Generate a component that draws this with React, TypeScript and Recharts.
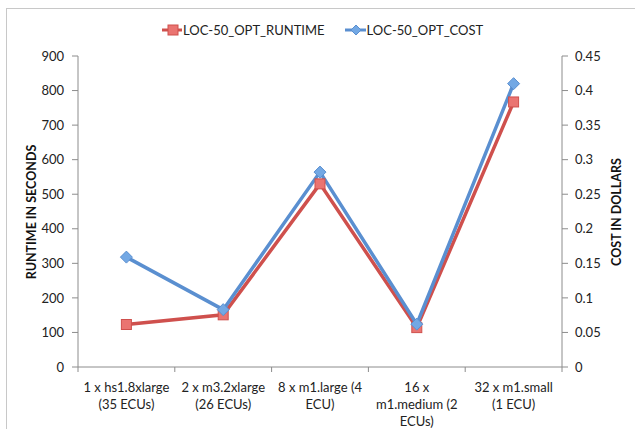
import { LineChart, Line, XAxis, YAxis } from 'recharts';

// instance types on the x axis (line breaks as in the original)
const categories = [
    '1 x hs1.8xlarge\n(35 ECUs)',
    '2 x m3.2xlarge\n(26 ECUs)',
    '8 x m1.large (4\nECU)',
    '16 x\nm1.medium (2\nECUs)',
    '32 x m1.small\n(1 ECU)',
];
const runtimeSeconds = [123, 151, 530, 114, 767];
const costDollars = [0.159, 0.083, 0.282, 0.062, 0.41];
const runtimeTicks = [0, 100, 200, 300, 400, 500, 600, 700, 800, 900];
const costTicks = [0, 0.05, 0.1, 0.15, 0.2, 0.25, 0.3, 0.35, 0.4, 0.45];

const data = categories.map((c, i) => ({
    name: c,
    runtime: runtimeSeconds[i],
    cost: costDollars[i],
}));

const FONT = 'Lato, "Open Sans", sans-serif';
const AXIS = '#8c8c8c';
const RED = '#cf504d';
const RED_FILL = '#ea7471';
const BLUE = '#5a8fd0';
const BLUE_FILL = '#73a8e4';
const HALF_BAND = 48.4;

const CategoryTick = (props: any) => {
    const { x, y, payload, index } = props;
    const lines = String(payload.value).split('\n');
    const top = y - 8;
    return (
        <g>
            <line x1={x - HALF_BAND} y1={top} x2={x - HALF_BAND} y2={top + 5} stroke={AXIS} />
            {index === categories.length - 1 && (
                <line x1={x + HALF_BAND} y1={top} x2={x + HALF_BAND} y2={top + 5} stroke={AXIS} />
            )}
            {lines.map((l, i) => (
                <text key={i} x={x} y={y + 17 + i * 17} textAnchor="middle" fontSize={13} fill="#222" fontFamily={FONT}>
                    {l}
                </text>
            ))}
        </g>
    );
};

const SquareDot = (props: any) => {
    const { cx, cy } = props;
    if (cx == null || cy == null) return null;
    return <rect x={cx - 5} y={cy - 5} width={10} height={10} fill={RED_FILL} stroke={RED} strokeWidth={1} />;
};

const DiamondDot = (props: any) => {
    const { cx, cy } = props;
    if (cx == null || cy == null) return null;
    return <path d={`M${cx},${cy - 6} L${cx + 6},${cy} L${cx},${cy + 6} L${cx - 6},${cy} Z`} fill={BLUE_FILL} stroke={BLUE} strokeWidth={1} />;
};

const App = () => {
    return (
        <div style={{ position: 'absolute', left: 0, top: 0, width: 635, height: 429, background: '#fff', fontFamily: FONT, overflow: 'hidden' }}>
            <div style={{ position: 'absolute', left: 6, top: 8, width: 640, height: 440, border: '1px solid #c8c8c8' }} />
            <div style={{ position: 'absolute', top: 21, left: 162, display: 'flex', fontSize: 13, color: '#222' }}>
                <svg width={21} height={18}>
                    <line x1={0} y1={9} x2={20} y2={9} stroke={RED} strokeWidth={3} />
                    <rect x={6} y={4} width={10} height={10} fill={RED_FILL} stroke={RED} />
                </svg>
                <span style={{ lineHeight: '18px' }}>LOC-50_OPT_RUNTIME</span>
                <svg width={22} height={18} style={{ marginLeft: 20 }}>
                    <line x1={0} y1={9} x2={21} y2={9} stroke={BLUE} strokeWidth={3} />
                    <path d="M11,4 L16,9 L11,14 L6,9 Z" fill={BLUE_FILL} stroke={BLUE} />
                </svg>
                <span style={{ lineHeight: '18px' }}>LOC-50_OPT_COST</span>
            </div>
            <LineChart width={635} height={429} data={data} margin={{ top: 56, right: 0, bottom: 0, left: 0 }} style={{ position: 'absolute', left: 0, top: 0 }}>
                <XAxis dataKey="name" height={62} axisLine={{ stroke: AXIS }} tickLine={false} tick={<CategoryTick />} interval={0}
                    padding={{ left: HALF_BAND, right: HALF_BAND }} />
                <YAxis yAxisId="left" domain={[0, 900]} ticks={runtimeTicks} width={78} axisLine={{ stroke: AXIS }} tickLine={{ stroke: AXIS }} tickSize={6} tickMargin={8}
                    tick={{ fontSize: 13, fill: '#222', fontFamily: FONT }}
                    label={() => (
                        <text x={31} y={212} transform="rotate(-90 31 212)" textAnchor="middle" dominantBaseline="central" fontSize={12.5} fontWeight="bold" fill="#111" fontFamily={FONT}>
                            RUNTIME IN SECONDS
                        </text>
                    )} />
                <YAxis yAxisId="right" orientation="right" domain={[0, 0.45]} ticks={costTicks} width={73} axisLine={{ stroke: AXIS }} tickLine={{ stroke: AXIS }} tickSize={6} tickMargin={7}
                    tick={{ fontSize: 13, fill: '#222', fontFamily: FONT }}
                    label={() => (
                        <text x={616} y={212} transform="rotate(-90 616 212)" textAnchor="middle" dominantBaseline="central" fontSize={12.5} fontWeight="bold" fill="#111" fontFamily={FONT}>
                            COST IN DOLLARS
                        </text>
                    )} />
                <Line yAxisId="left" dataKey="runtime" stroke={RED} strokeWidth={3.5} dot={<SquareDot />} isAnimationActive={false} />
                <Line yAxisId="right" dataKey="cost" stroke={BLUE} strokeWidth={3.5} dot={<DiamondDot />} isAnimationActive={false} />
            </LineChart>
        </div>
    );
};

export default App;
